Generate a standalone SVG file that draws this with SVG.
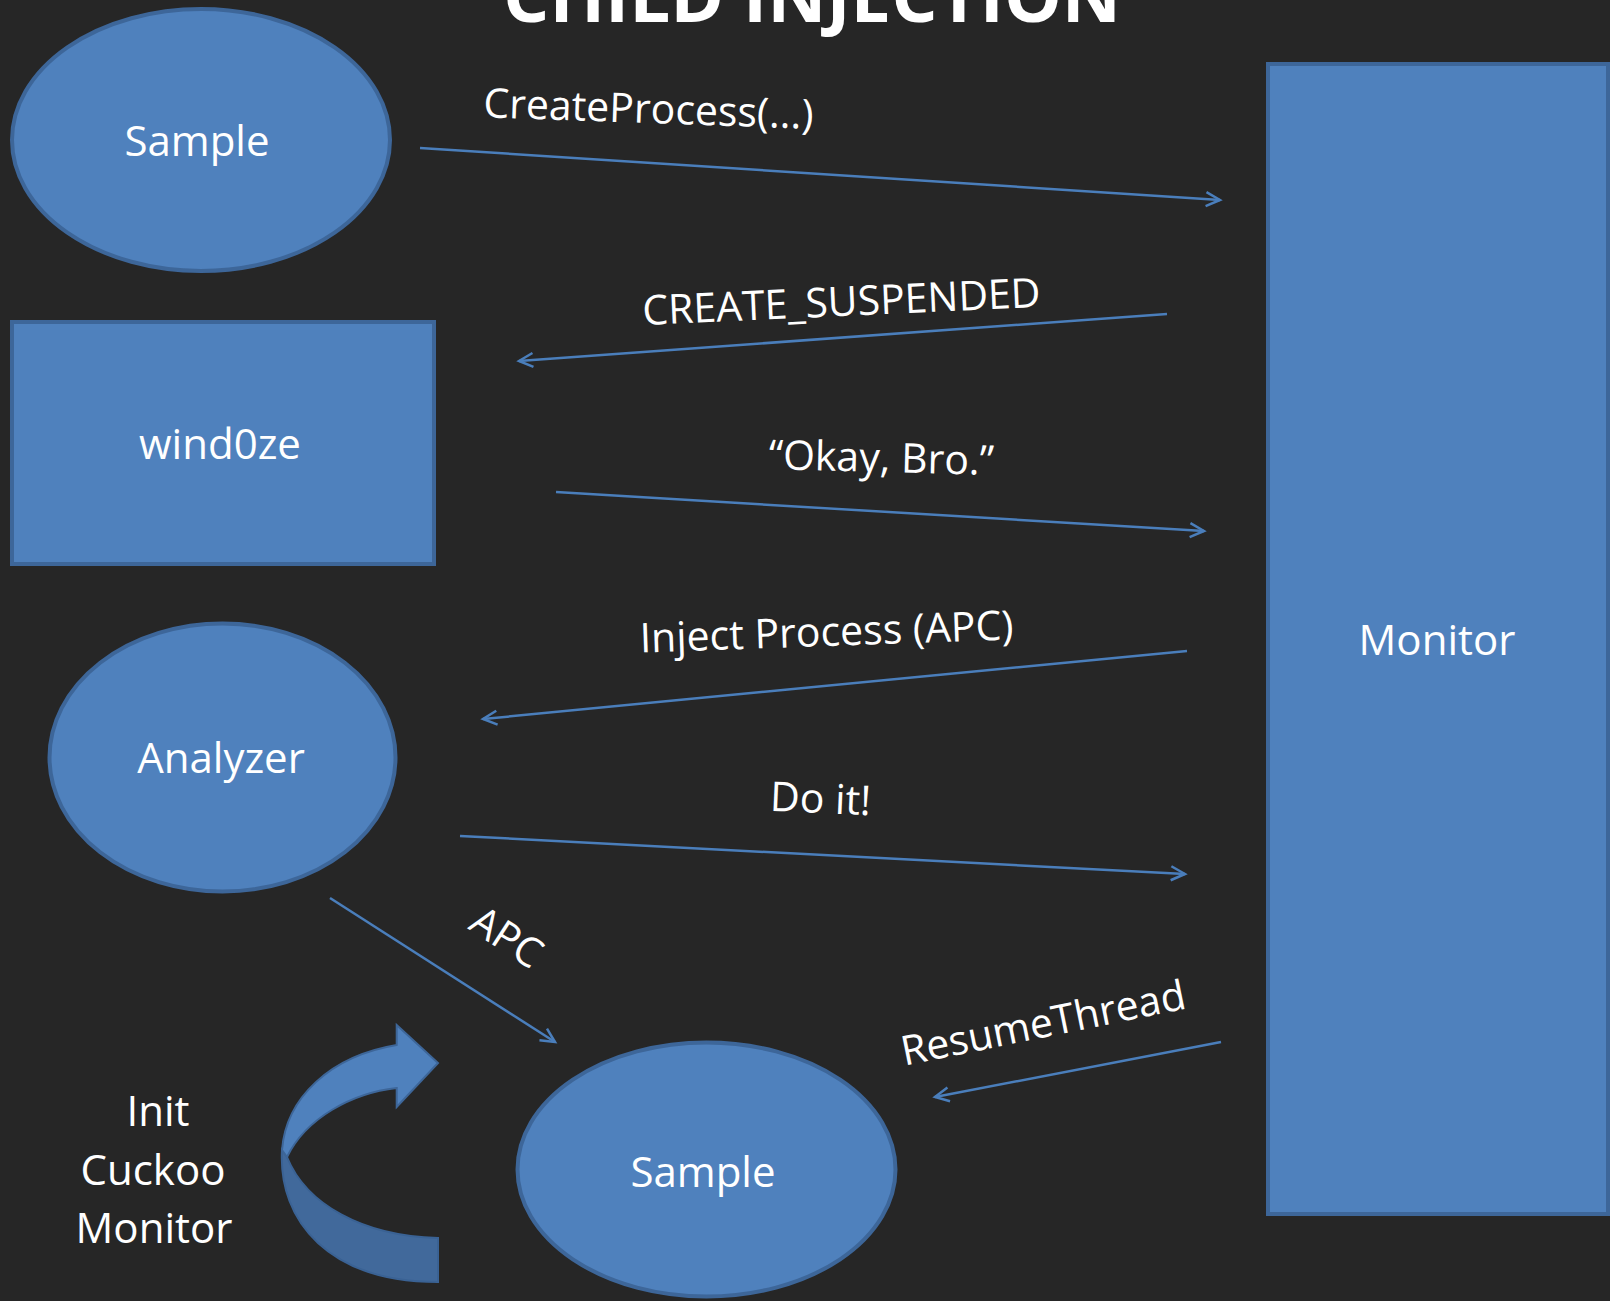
<svg xmlns="http://www.w3.org/2000/svg" width="1610" height="1301" viewBox="0 0 1610 1301">
<style>
.node{fill:#4f81bd;stroke:#3d6699;stroke-width:4}
.lbl{font-family:"Open Sans","DejaVu Sans",sans-serif;fill:#ffffff;font-size:42px;text-anchor:middle}
.edge{font-family:"Open Sans","DejaVu Sans",sans-serif;fill:#ffffff;font-size:41px;text-anchor:middle}
.conn{stroke:#4a7ebb;stroke-width:2.5;fill:none;marker-end:url(#arr)}
</style>
<defs>
<marker id="arr" markerUnits="userSpaceOnUse" markerWidth="20" markerHeight="20" viewBox="-16 -10 20 20" refX="0" refY="0" orient="auto">
<path d="M-14,-7 L0,0 L-14,7" fill="none" stroke="#4a7ebb" stroke-width="2.5"/>
</marker>
</defs>
<rect width="1610" height="1301" fill="#262626"/>
<text x="812" y="22" font-family="'Open Sans','DejaVu Sans',sans-serif" font-weight="bold" font-size="72" fill="#ffffff" text-anchor="middle" textLength="618" lengthAdjust="spacingAndGlyphs">CHILD INJECTION</text>

<g id="sample-top">
<ellipse class="node" cx="201" cy="140" rx="189" ry="131"/>
<text class="lbl" x="197" y="156">Sample</text>
</g>
<g id="windoze">
<rect class="node" x="12" y="322" width="422" height="242"/>
<text class="lbl" x="220" y="459">wind0ze</text>
</g>
<g id="analyzer">
<ellipse class="node" cx="222.5" cy="757.5" rx="173" ry="134"/>
<text class="lbl" x="221" y="773">Analyzer</text>
</g>
<g id="sample-bottom">
<ellipse class="node" cx="706.5" cy="1169.5" rx="189" ry="127"/>
<text class="lbl" x="703" y="1187">Sample</text>
</g>
<g id="monitor">
<rect class="node" x="1268" y="64" width="340" height="1150"/>
<text class="lbl" x="1437" y="655">Monitor</text>
</g>
<g id="init-cuckoo">
<path d="M282,1150 C278,1222 330,1282 438,1282 L438,1238 C362,1236 306,1204 287,1157 Z" fill="#41699b" stroke="#3a6294" stroke-width="2"/>
<path d="M396.7,1045 L396.7,1025 L438,1063 L396.7,1107 L396.7,1088 C352,1093 306,1118 287,1157 L282,1150 C286,1098 330,1056 396.7,1045 Z" fill="#4f81bd" stroke="#3d6699" stroke-width="2"/>
<text class="lbl" x="158" y="1126">Init</text>
<text class="lbl" x="153" y="1185">Cuckoo</text>
<text class="lbl" x="154" y="1243" font-size="43">Monitor</text>
</g>

<g id="connectors">
<line class="conn" x1="420" y1="148" x2="1220" y2="200"/>
<line class="conn" x1="1167" y1="314" x2="519" y2="361"/>
<line class="conn" x1="556" y1="492" x2="1204" y2="531"/>
<line class="conn" x1="1187" y1="651" x2="483" y2="719"/>
<line class="conn" x1="460" y1="836" x2="1185" y2="874"/>
<line class="conn" x1="330" y1="898" x2="555" y2="1042"/>
<line class="conn" x1="1221" y1="1042" x2="935" y2="1097"/>
<text class="edge" x="648" y="123" transform="rotate(2 648 123)">CreateProcess(...)</text>
<text class="edge" x="842" y="316" transform="rotate(-2.6 842 316)">CREATE_SUSPENDED</text>
<text class="edge" x="881" y="472" transform="rotate(1.5 881 472)">“Okay, Bro.”</text>
<text class="edge" x="827" y="646" transform="rotate(-2 827 646)">Inject Process (APC)</text>
<text class="edge" x="820" y="813" transform="rotate(2.5 820 813)">Do it!</text>
<text class="edge" x="499" y="949" transform="rotate(33 499 949)">APC</text>
<text class="edge" x="1046" y="1037" transform="rotate(-11.5 1046 1037)">ResumeThread</text>
</g>
</svg>
